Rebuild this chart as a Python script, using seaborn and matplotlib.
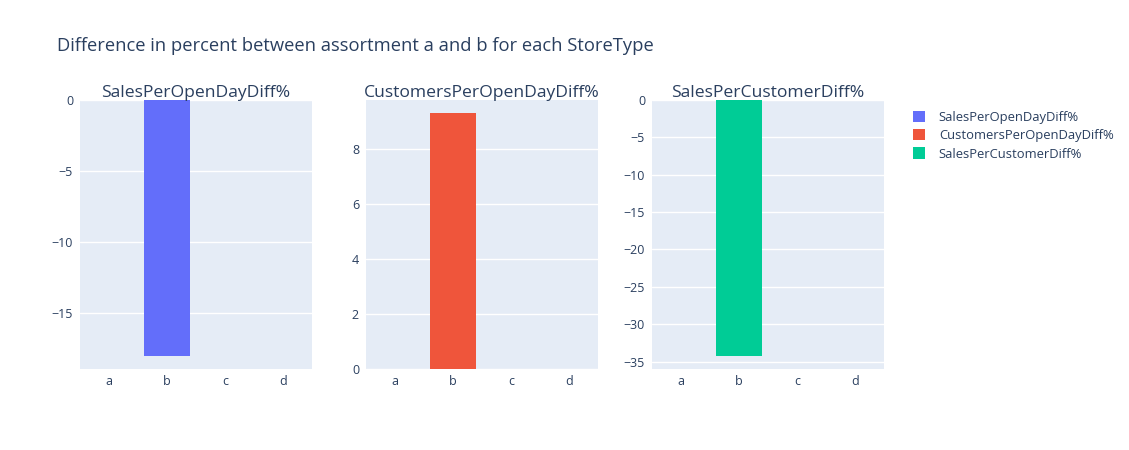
import numpy as np
import matplotlib
matplotlib.use("Agg")
import matplotlib.pyplot as plt
from matplotlib.patches import Patch
import seaborn as sns

# --- data ---
store_types = ["a", "b", "c", "d"]
sales_per_open_day = [0.0, -18.0, 0.0, 0.0]
customers_per_open_day = [0.0, 9.3, 0.0, 0.0]
sales_per_customer = [0.0, -34.2, 0.0, 0.0]

metric_names = ["SalesPerOpenDayDiff%", "CustomersPerOpenDayDiff%", "SalesPerCustomerDiff%"]
ticks_sales = [0, -5, -10, -15]
ticks_customers = [0, 2, 4, 6, 8]
ticks_spc = [0, -5, -10, -15, -20, -25, -30, -35]

colors = ["#636EFA", "#EF553B", "#00CC96"]
BG = "#E5ECF6"
TXT = "#2a3f5f"

sns.set_theme(style="white")
plt.rcParams["font.family"] = ["Open Sans", "DejaVu Sans"]

W, H = 1129, 450
fig = plt.figure(figsize=(W / 100, H / 100), dpi=100)

panels = [
    (sales_per_open_day, ticks_sales, 80),
    (customers_per_open_day, ticks_customers, 366),
    (sales_per_customer, ticks_spc, 652),
]

for i, (vals, ticks, left_px) in enumerate(panels):
    ax = fig.add_axes([left_px / W, (H - 369) / H, 232 / W, 269 / H])
    ax.set_facecolor(BG)
    for y in ticks:
        ax.axhline(y, color="white", lw=1, zorder=0)
    sns.barplot(x=store_types, y=vals, color=colors[i], saturation=1, width=0.8,
                linewidth=0, ax=ax, zorder=2)
    # plotly-style autorange (5% padding away from zero)
    lo = min(min(vals), 0) / 0.95
    hi = max(max(vals), 0) / 0.95
    ax.set_ylim(lo, hi)
    ax.set_xlim(-0.5, 3.5)
    ax.set_yticks(ticks)
    ax.set_title(metric_names[i], fontsize=12.6, color=TXT, pad=2)
    ax.tick_params(axis="both", length=0, labelsize=9.0, labelcolor=TXT)
    ax.tick_params(axis="x", pad=4)
    ax.tick_params(axis="y", pad=5)
    ax.set_xlabel("")
    ax.set_ylabel("")
    for s in ax.spines.values():
        s.set_visible(False)

fig.text(57 / W, 1 - 46 / H, "Difference in percent between assortment a and b for each StoreType",
         fontsize=13.2, color=TXT, va="center", ha="left")

handles = [Patch(facecolor=c, edgecolor="none") for c in colors]
fig.legend(handles, metric_names, loc="upper left", bbox_to_anchor=(901 / W, 1 - 99 / H),
           frameon=False, fontsize=9.4, labelcolor=TXT, handlelength=0.95, handleheight=0.95,
           handletextpad=1.05, labelspacing=0.4)

fig.savefig("out.png", dpi=100, facecolor="white")
